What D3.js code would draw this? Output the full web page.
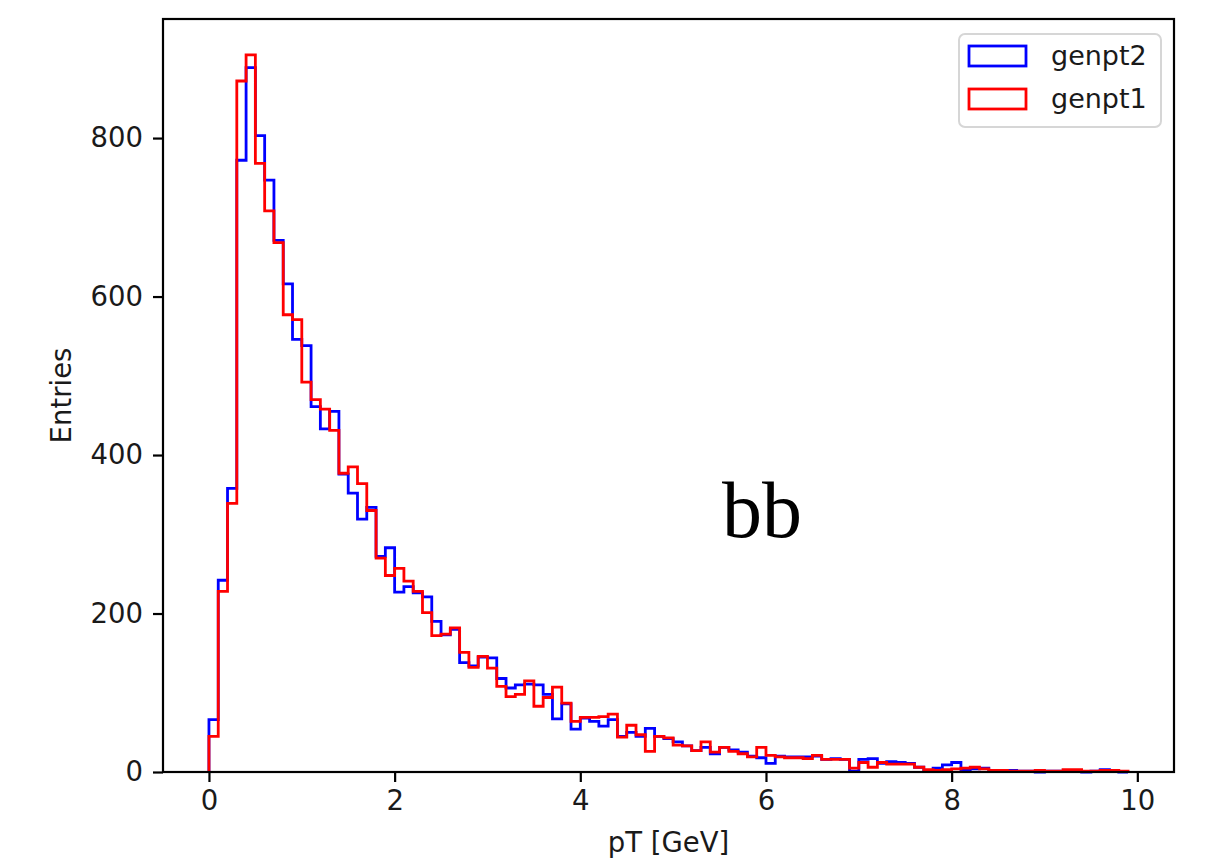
<html>
<head>
    <meta charset="utf-8">
    <title>genpt histogram</title>
</head>
<style>
    body { margin: 0; background: #fff; }
    text { font-family: "DejaVu Sans", sans-serif; fill: #1a1a1a; }
</style>
<body>
<svg width="1213" height="864"></svg>
<script src="https://d3js.org/d3.v7.min.js" charset="utf-8"></script>
<script>

    // bin edges (pT in GeV), 99 bins of width 0.1
    var binEdges = d3.range(100).map(function (i) { return +(i * 0.1).toFixed(1); });

    // entries per bin
    var genpt2 = [66, 242, 358, 772, 889, 803, 747, 671, 616, 546,
        538, 461, 433, 455, 376, 352, 319, 334, 272, 283,
        227, 234, 226, 221, 190, 173, 180, 138, 134, 145,
        144, 118, 106, 110, 111, 110, 98, 67, 86, 54,
        68, 64, 58, 66, 45, 50, 45, 55, 45, 42,
        38, 33, 27, 31, 23, 31, 28, 25, 20, 18,
        11, 20, 19, 19, 19, 20, 16, 17, 16, 1,
        16, 17, 11, 13, 12, 11, 6, 1, 5, 9,
        12, 3, 4, 5, 2, 1, 2, 1, 1, 0,
        1, 1, 1, 1, 0, 1, 3, 1, 0];
    var genpt1 = [45, 228, 339, 872, 905, 768, 708, 668, 577, 571,
        492, 470, 458, 431, 377, 385, 364, 330, 270, 248,
        257, 241, 228, 201, 172, 174, 182, 151, 132, 146,
        131, 108, 95, 98, 115, 83, 94, 107, 87, 64,
        69, 69, 70, 73, 44, 59, 47, 26, 45, 43,
        34, 33, 27, 38, 25, 31, 26, 23, 19, 31,
        21, 19, 18, 18, 17, 21, 16, 16, 16, 5,
        12, 6, 12, 10, 10, 10, 6, 3, 2, 3,
        4, 5, 6, 4, 2, 2, 1, 1, 1, 2,
        1, 1, 3, 3, 1, 1, 2, 2, 1];

    var xTicks = [0, 2, 4, 6, 8, 10];
    var yTicks = [0, 200, 400, 600, 800];

    var series = [
        {name: 'genpt2', values: genpt2, color: '#0000ff'},
        {name: 'genpt1', values: genpt1, color: '#ff0000'}
    ];

    var margin = {left: 163, right: 39, top: 19, bottom: 92};
    var W = 1213, H = 864;

    var lo = binEdges[0], hi = binEdges[binEdges.length - 1];
    var pad = (hi - lo) * 0.05;
    var x = d3.scaleLinear().domain([lo - pad, hi + pad]).range([margin.left, W - margin.right]);
    var ymax = d3.max(series, function (s) { return d3.max(s.values); });
    var y = d3.scaleLinear().domain([0, ymax * 1.05]).range([H - margin.bottom, margin.top]);

    var svg = d3.select('svg');

    // step outlines
    var line = d3.line().x(function (d) { return x(d[0]); }).y(function (d) { return y(d[1]); });
    series.forEach(function (s) {
        var pts = [[binEdges[0], 0]];
        s.values.forEach(function (v, i) {
            pts.push([binEdges[i], v]);
            pts.push([binEdges[i + 1], v]);
        });
        pts.push([hi, 0]);
        svg.append('path')
            .attr('d', line(pts))
            .attr('fill', 'none')
            .attr('stroke', s.color)
            .attr('stroke-width', 2.8)
            .attr('stroke-linejoin', 'miter');
    });

    // axes
    var xAxis = d3.axisBottom(x).tickValues(xTicks).tickSize(10).tickPadding(8).tickFormat(d3.format('d'));
    var yAxis = d3.axisLeft(y).tickValues(yTicks).tickSize(10).tickPadding(10).tickFormat(d3.format('d'));

    var gx = svg.append('g').attr('transform', 'translate(0,' + (H - margin.bottom) + ')').call(xAxis);
    var gy = svg.append('g').attr('transform', 'translate(' + margin.left + ',0)').call(yAxis);
    [gx, gy].forEach(function (g) {
        g.select('.domain').remove();
        g.selectAll('.tick line').attr('stroke', '#000').attr('stroke-width', 2.2);
        g.selectAll('.tick text').attr('font-size', '27.5px').attr('fill', '#1a1a1a')
            .attr('font-family', '"DejaVu Sans", sans-serif');
    });

    // frame
    svg.append('rect')
        .attr('x', margin.left).attr('y', margin.top)
        .attr('width', W - margin.left - margin.right)
        .attr('height', H - margin.top - margin.bottom)
        .attr('fill', 'none').attr('stroke', '#000').attr('stroke-width', 2.2);

    svg.append('text')
        .attr('transform', 'translate(71,' + ((margin.top + H - margin.bottom) / 2) + ') rotate(-90)')
        .attr('text-anchor', 'middle')
        .attr('font-size', '27.5px')
        .text('Entries');

    svg.append('text')
        .attr('x', (margin.left + W - margin.right) / 2)
        .attr('y', 852)
        .attr('text-anchor', 'middle')
        .attr('font-size', '27.5px')
        .text('pT [GeV]');

    // legend
    var legend = svg.append('g').attr('transform', 'translate(959,34)');
    legend.append('rect')
        .attr('width', 202).attr('height', 93).attr('rx', 6)
        .attr('fill', '#fff').attr('stroke', '#d6d6d6').attr('stroke-width', 2);
    series.forEach(function (s, i) {
        legend.append('rect')
            .attr('x', 10).attr('y', 12 + i * 43)
            .attr('width', 57).attr('height', 20)
            .attr('fill', 'none').attr('stroke', s.color).attr('stroke-width', 2.8);
        legend.append('text')
            .attr('x', 92).attr('y', 22 + i * 43)
            .attr('dy', '0.35em')
            .attr('font-size', '27px')
            .text(s.name);
    });

    svg.append('text')
        .attr('x', 722).attr('y', 537)
        .style('font-family', '"Liberation Serif", serif')
        .style('fill', '#000')
        .attr('font-size', '80px')
        .text('bb');

</script>
</body>
</html>
